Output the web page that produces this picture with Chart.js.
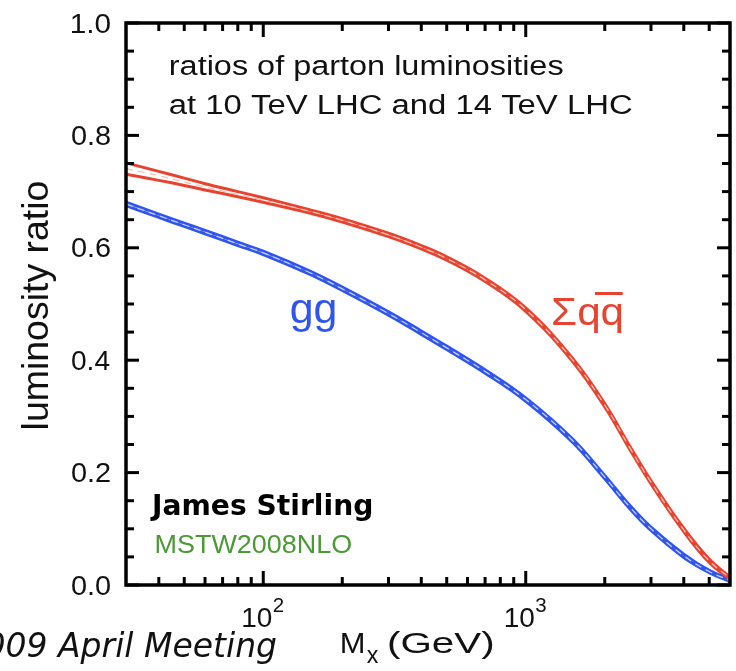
<!DOCTYPE html>
<html>
<head>
<meta charset="utf-8">
<script src="https://cdn.jsdelivr.net/npm/chart.js@4.4.1/dist/chart.umd.min.js"></script>
<style>
  html, body { margin: 0; padding: 0; background: #fff; overflow: hidden; }
  canvas { display: block; }
</style>
</head>
<body>
<canvas id="chart" width="736" height="671"></canvas>
<script>
// invariant mass M_x in GeV
const massGeV = [30, 40, 50, 60, 80, 100, 150, 200, 300, 400, 500, 700, 1000, 1500, 2000, 2500, 3000, 4000, 5000, 6000]

// sum q qbar luminosity ratio: central value and band edges
const qqCentral = [0.741, 0.728, 0.717, 0.708, 0.695, 0.685, 0.665, 0.649, 0.623, 0.601, 0.581, 0.543, 0.490, 0.402, 0.320, 0.243, 0.183, 0.098, 0.043, 0.012]
const qqUpper   = [0.751, 0.736, 0.724, 0.714, 0.700, 0.689, 0.668, 0.652, 0.626, 0.604, 0.584, 0.546, 0.493, 0.405, 0.323, 0.246, 0.186, 0.101, 0.046, 0.014]
const qqLower   = [0.731, 0.720, 0.711, 0.703, 0.691, 0.681, 0.662, 0.646, 0.620, 0.598, 0.578, 0.540, 0.487, 0.399, 0.317, 0.240, 0.180, 0.095, 0.040, 0.010]

// gg luminosity ratio: central value and band edges
const ggCentral = [0.678, 0.657, 0.641, 0.628, 0.607, 0.591, 0.556, 0.527, 0.483, 0.449, 0.422, 0.380, 0.330, 0.258, 0.192, 0.138, 0.100, 0.052, 0.024, 0.008]
const ggUpper   = [0.681, 0.660, 0.644, 0.631, 0.610, 0.594, 0.559, 0.530, 0.486, 0.452, 0.425, 0.383, 0.333, 0.261, 0.195, 0.141, 0.103, 0.055, 0.026, 0.010]
const ggLower   = [0.675, 0.654, 0.638, 0.625, 0.604, 0.588, 0.553, 0.524, 0.480, 0.446, 0.419, 0.377, 0.327, 0.255, 0.189, 0.135, 0.097, 0.049, 0.022, 0.006]

// axis ticks
const yMajorTicks = [0, 0.2, 0.4, 0.6, 0.8, 1.0]
const yTickLabels = ['0.0', '0.2', '0.4', '0.6', '0.8', '1.0']
const yMinorTicks = [0.05, 0.1, 0.15, 0.25, 0.3, 0.35, 0.45, 0.5, 0.55, 0.65, 0.7, 0.75, 0.85, 0.9, 0.95]
const xMajorTicks = [100, 1000]
const xTickLabels = [['10', '2'], ['10', '3']]
const xMinorTicks = [40, 50, 60, 70, 80, 90, 200, 300, 400, 500, 600, 700, 800, 900, 2000, 3000, 4000, 5000]

const red = '#e8432f'
const blue = '#2f55ee'
const sans = '"Liberation Sans", Arial, sans-serif'

const toPoints = (values) => massGeV.map((m, i) => ({ x: m, y: values[i] }))

function makeLine(values, color, width, dash) {
  return {
    data: toPoints(values),
    borderColor: color,
    borderWidth: width,
    borderDash: dash || [],
    pointRadius: 0,
    fill: false,
    tension: 0.4,
  }
}

// draw text so that its ink spans exactly `width` pixels from `left`
function fitText(ctx, text, left, baseline, width) {
  ctx.textAlign = 'left'
  const m = ctx.measureText(text)
  const ink = m.actualBoundingBoxLeft + m.actualBoundingBoxRight
  const s = width / ink
  ctx.save()
  ctx.translate(left + m.actualBoundingBoxLeft * s, baseline)
  ctx.scale(s, 1)
  ctx.fillText(text, 0, 0)
  ctx.restore()
}

const frameAndText = {
  id: 'frameAndText',
  afterDraw(chart) {
    const { ctx, chartArea: a, scales: { x, y } } = chart
    ctx.save()

    // frame
    ctx.strokeStyle = '#000'
    ctx.lineWidth = 3.5
    ctx.strokeRect(a.left, a.top, a.right - a.left, a.bottom - a.top)

    // inward ticks on all four sides
    ctx.lineWidth = 3
    const seg = (x1, y1, x2, y2) => {
      ctx.beginPath()
      ctx.moveTo(x1, y1)
      ctx.lineTo(x2, y2)
      ctx.stroke()
    }
    const yTick = (v, len) => {
      const py = y.getPixelForValue(v)
      seg(a.left, py, a.left + len, py)
      seg(a.right, py, a.right - len, py)
    }
    const xTick = (v, len) => {
      const px = x.getPixelForValue(v)
      seg(px, a.bottom, px, a.bottom - len)
      seg(px, a.top, px, a.top + len)
    }
    yMajorTicks.forEach((v) => yTick(v, 13))
    yMinorTicks.forEach((v) => yTick(v, 8))
    xMajorTicks.forEach((v) => xTick(v, 14))
    xMinorTicks.forEach((v) => xTick(v, 8))

    // y tick labels
    ctx.fillStyle = '#111'
    ctx.font = `27px ${sans}`
    yMajorTicks.forEach((v, i) => {
      const py = y.getPixelForValue(v)
      fitText(ctx, yTickLabels[i], 72, py + 9.5, 38)
    })

    // x tick labels: 10 with superscript exponent
    xMajorTicks.forEach((v, i) => {
      const px = x.getPixelForValue(v)
      ctx.font = `27px ${sans}`
      fitText(ctx, xTickLabels[i][0], px - 20, 627, 28)
      ctx.font = `19.5px ${sans}`
      fitText(ctx, xTickLabels[i][1], px + 9.5, 612, 10.5)
    })

    // y axis title
    ctx.font = `36px ${sans}`
    ctx.save()
    ctx.translate(48, 428.3)
    ctx.rotate(-Math.PI / 2)
    fitText(ctx, 'luminosity ratio', 0, 0, 246.6)
    ctx.restore()

    // x axis title
    ctx.font = `30px ${sans}`
    fitText(ctx, 'M', 341.7, 653.3, 21.6)
    fitText(ctx, '(GeV)', 388.3, 653.3, 105)
    ctx.font = `24px ${sans}`
    fitText(ctx, 'x', 366.7, 662.8, 11.6)

    // slide footer, cut by the left edge
    ctx.font = 'italic 33px "DejaVu Sans", Verdana, sans-serif'
    ctx.textAlign = 'right'
    ctx.fillText('2009 April Meeting', 277, 656.7)

    // annotations inside the frame
    ctx.fillStyle = '#111'
    ctx.font = `27px ${sans}`
    fitText(ctx, 'ratios of parton luminosities', 170, 75, 393)
    fitText(ctx, 'at 10 TeV LHC and 14 TeV LHC', 170, 114, 462)

    ctx.fillStyle = blue
    ctx.font = `42px ${sans}`
    fitText(ctx, 'gg', 290.7, 323, 44.3)

    ctx.fillStyle = red
    ctx.font = `38px ${sans}`
    fitText(ctx, 'Σqq', 553.3, 325, 68.4)
    ctx.fillRect(595, 292, 27.7, 3)

    ctx.fillStyle = '#000'
    ctx.font = `bold 29px "DejaVu Sans", Verdana, sans-serif`
    fitText(ctx, 'James Stirling', 150, 515, 221.7)

    ctx.fillStyle = '#4b9a35'
    ctx.font = `25px ${sans}`
    fitText(ctx, 'MSTW2008NLO', 156.7, 553.3, 195)

    ctx.restore()
  },
}

const datasets = [
  // dataset 0 is painted last, so the dashed centre lines come first
  makeLine(qqCentral, '#f7c0b4', 1.3, [7, 5]),
  makeLine(ggCentral, '#c3cffb', 1.3, [7, 5]),
  makeLine(qqUpper, red, 3),
  makeLine(qqLower, red, 3),
  makeLine(ggUpper, blue, 3),
  makeLine(ggLower, blue, 3),
]

new Chart(document.getElementById('chart').getContext('2d'), {
  type: 'line',
  data: { datasets },
  options: {
    responsive: false,
    devicePixelRatio: 1,
    animation: false,
    layout: { padding: { left: 126, right: 6, top: 23, bottom: 86 } },
    scales: {
      x: { type: 'logarithmic', min: 30, max: 6000, display: false },
      y: { type: 'linear', min: 0, max: 1, display: false },
    },
    plugins: {
      legend: { display: false },
      tooltip: { enabled: false },
    },
  },
  plugins: [frameAndText],
})
</script>
</body>
</html>
